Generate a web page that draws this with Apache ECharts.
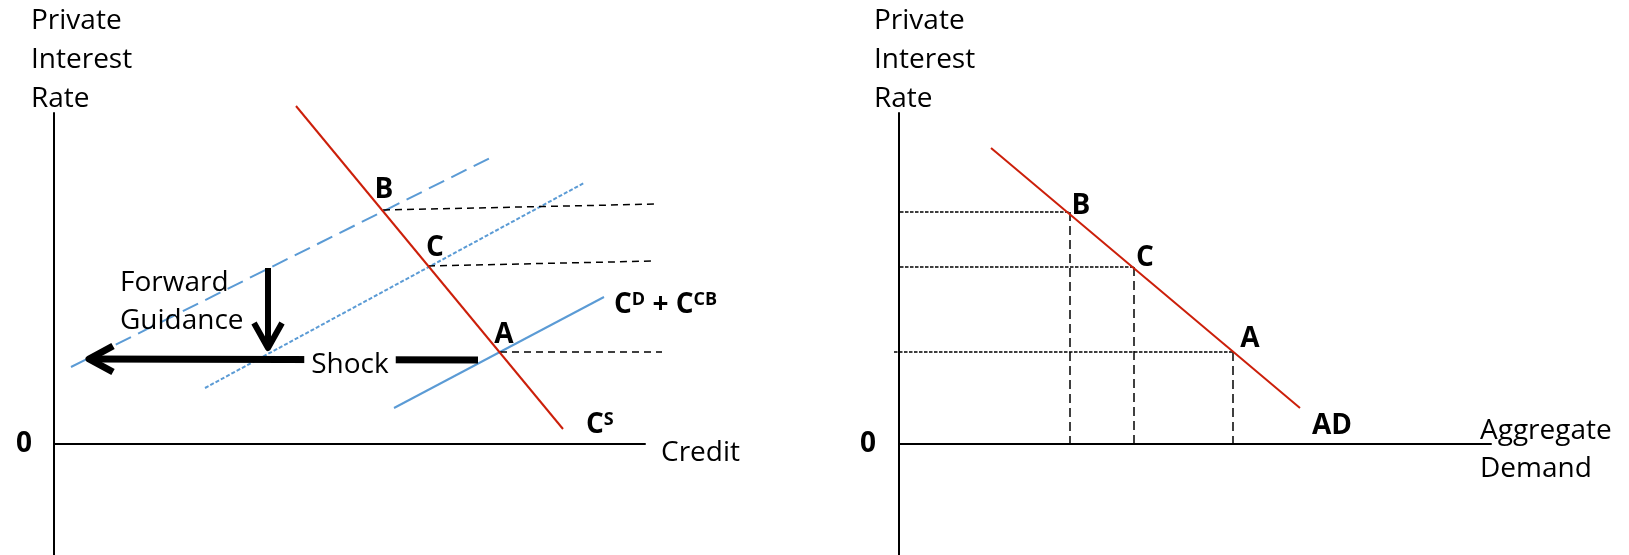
<!DOCTYPE html>
<html><head><meta charset="utf-8">
<script src="https://cdn.jsdelivr.net/npm/echarts@6/dist/echarts.min.js"></script>
<style>html,body{margin:0;padding:0;background:#fff}#c{width:1629px;height:555px}</style>
</head><body><div id="c"></div>
<script>
// ---------------- DATA (diagram units) ----------------
// Axis titles
const yAxisTitle = 'Private\nInterest\nRate';
const leftXTitle = 'Credit';
const rightXTitle = 'Aggregate\nDemand';
const zeroLabel = 0;

// Axis ranges (drawn axes)
const xRangeLeft = [0, 59.1];
const xRangeRight = [0, 59.2];
const yRange = [-11.1, 33.1];
// Ranges of the (same-scale) plotting layers, wide enough for marks that run past the axes
const xMarkRangeLeft = [0, 62.1];
const xMarkRangeRight = [-2, 59.2];
const yMarkRange = [-11.1, 35.1];

// Left panel: credit market
const creditSupply = [[24.2, 33.8], [50.9, 1.5]];     // C^S (red)
const creditDemand = [[34.0, 3.6], [55.0, 14.7]];     // C^D + C^CB (solid blue)
const demandHigh = [[1.7, 7.7], [43.8, 28.7]];        // long-dash blue
const demandMid = [[15.1, 5.6], [53.0, 26.1]];        // short-dash blue
const leftPoints = [['B', 32.9, 23.4], ['C', 37.4, 17.8], ['A', 44.6, 9.2]];
const leftRefEnds = [[60.4, 24.0], [60.1, 18.3], [60.8, 9.2]];
const guidanceShaft = [[21.4, 17.6], [21.4, 9.8]];
const guidanceHead = [[20.0, 12.1], [21.4, 9.6], [22.8, 12.1]];
const shockShaft = [[42.4, 8.4], [3.8, 8.5]];
const shockHead = [[5.9, 9.8], [3.5, 8.5], [5.9, 7.2]];
const forwardText = 'Forward\nGuidance';
const forwardAnchor = [6.6, 14.2];
const shockText = 'Shock';
const shockAnchor = [29.6, 7.9];

// Right panel: aggregate demand
const adCurve = [[9.2, 29.6], [40.1, 3.6]];
const rightPoints = [['B', 17.1, 23.2], ['C', 23.5, 17.7], ['A', 33.4, 9.2]];
const rightRefStartX = [0.1, 0.1, -0.5];
const yStarLabel = 'y*';

// ---------------- STYLE ----------------
const FONT = 'Open Sans';
const RED = '#CC1F0A', BLUE = '#5B9BD5', BLACK = '#000';
const pointLabelOffset = {
  left: {B: [1, -20], C: [7, -18], A: [4, -17]},
  right: {B: [11, -6], C: [11, -9], A: [17, -13]}
};
// grid indices: 0/1 = axes of left/right panel, 2/3 = plotting layers of left/right panel
const LM = 2, RM = 3;

function seg(data, gi, color, width, type, z) {
  return {type: 'line', xAxisIndex: gi, yAxisIndex: gi, data: data, symbol: 'none', showSymbol: false,
    clip: false, silent: true, animation: false, z: z || 2,
    lineStyle: {color: color, width: width, type: type || 'solid', cap: 'butt', join: 'round'}};
}
function textSeries(gi, items, z) {
  return {type: 'scatter', xAxisIndex: gi, yAxisIndex: gi, symbolSize: 0, clip: false, silent: true,
    animation: false, z: z || 10, itemStyle: {opacity: 1, color: 'transparent'}, data: items};
}
const boldLabel = {show: true, position: 'inside', formatter: '{b}', fontFamily: FONT, fontSize: 28,
  fontWeight: 'bold', color: BLACK, opacity: 1, textBorderWidth: 0};
const plainLabel = {show: true, position: 'inside', formatter: '{b}', fontFamily: FONT, fontSize: 28,
  color: BLACK, opacity: 1, textBorderWidth: 0};
const richSup = {
  m: {fontFamily: FONT, fontSize: 28, fontWeight: 'bold', color: BLACK},
  s: {fontFamily: FONT, fontSize: 18, fontWeight: 'bold', color: BLACK, verticalAlign: 'top'}
};

const hiddenAxis = {type: 'value', show: false, axisLine: {show: false}, axisTick: {show: false},
  axisLabel: {show: false}, splitLine: {show: false}};
function xAxisCfg(gi, range, extraLabel) {
  return {gridIndex: gi, type: 'value', min: range[0], max: range[1],
    axisLine: {show: true, onZero: true, lineStyle: {color: BLACK, width: 2}},
    axisTick: {show: false}, splitLine: {show: false},
    axisLabel: extraLabel || {show: false}};
}
function yAxisCfg(gi, namePadLeft, labelMargin) {
  return {gridIndex: gi, type: 'value', min: yRange[0], max: yRange[1],
    axisLine: {show: true, onZero: true, lineStyle: {color: BLACK, width: 2}},
    axisTick: {show: false}, splitLine: {show: false},
    axisLabel: {show: true, customValues: [zeroLabel], fontFamily: FONT, fontSize: 28, fontWeight: 'bold',
      color: BLACK, margin: labelMargin},
    name: yAxisTitle, nameLocation: 'end', nameGap: -6,
    nameTextStyle: {fontFamily: FONT, fontSize: 28, color: BLACK, align: 'left', verticalAlign: 'bottom',
      lineHeight: 39, padding: [0, 0, 0, namePadLeft]}};
}

const series = [];
// Left panel
series.push(seg(demandHigh, LM, BLUE, 2, [17, 8]));
series.push(seg(demandMid, LM, BLUE, 2, [4, 2]));
series.push(seg(creditDemand, LM, BLUE, 2));
leftPoints.forEach((p, i) => series.push(seg([[p[1], p[2]], leftRefEnds[i]], LM, BLACK, 1.5, [7, 5])));
series.push(seg(creditSupply, LM, RED, 2, 'solid', 3));
series.push(seg(guidanceShaft, LM, BLACK, 6, 'solid', 4));
series.push(seg(guidanceHead, LM, BLACK, 6, 'solid', 4));
series.push(seg(shockShaft, LM, BLACK, 7, 'solid', 4));
series.push(seg(shockHead, LM, BLACK, 7, 'solid', 4));
series.push(textSeries(LM, leftPoints.map(p => ({value: [p[1], p[2]], name: p[0],
  label: Object.assign({}, boldLabel, {offset: pointLabelOffset.left[p[0]]})}))));
series.push(textSeries(LM, [
  {value: creditDemand[1], name: 'cd', label: {show: true, position: 'inside', align: 'left', offset: [10, 8],
    formatter: '{m|C}{s|D}{m| + C}{s|CB}', rich: richSup, opacity: 1}},
  {value: creditSupply[1], name: 'cs', label: {show: true, position: 'inside', align: 'left', offset: [23, -4],
    formatter: '{m|C}{s|S}', rich: richSup, opacity: 1}},
  {value: forwardAnchor, name: forwardText, label: Object.assign({}, plainLabel, {align: 'left', lineHeight: 38})},
  {value: shockAnchor, name: shockText, label: Object.assign({}, plainLabel, {backgroundColor: '#fff', padding: [2, 7]})},
  {value: [xRangeLeft[1], 0], name: leftXTitle, label: Object.assign({}, plainLabel, {align: 'left', offset: [16, 9]})}
], 12));

// Right panel
rightPoints.forEach((p, i) => {
  series.push(seg([[rightRefStartX[i], p[2]], [p[1], p[2]]], RM, BLACK, 1.5, [3.5, 1.5]));
  series.push(seg([[p[1], p[2]], [p[1], 0]], RM, BLACK, 1.5, [9, 5]));
});
series.push(seg(adCurve, RM, RED, 2, 'solid', 3));
series.push(textSeries(RM, rightPoints.map(p => ({value: [p[1], p[2]], name: p[0],
  label: Object.assign({}, boldLabel, {offset: pointLabelOffset.right[p[0]]})}))));
series.push(textSeries(RM, [
  {value: adCurve[1], name: 'AD', label: Object.assign({}, boldLabel, {align: 'left', offset: [12, 18]})},
  {value: [xRangeRight[1], 0], name: rightXTitle, label: Object.assign({}, plainLabel, {align: 'left',
    lineHeight: 38, offset: [-11, 6]})}
]));

const option = {
  backgroundColor: '#fff',
  animation: false,
  grid: [
    {left: 54, top: 113, width: 591, height: 442, containLabel: false, outerBoundsMode: 'none'},
    {left: 899, top: 113, width: 592, height: 442, containLabel: false, outerBoundsMode: 'none'},
    {left: 54, top: 93, width: 621, height: 462, containLabel: false, outerBoundsMode: 'none'},
    {left: 879, top: 93, width: 612, height: 462, containLabel: false, outerBoundsMode: 'none'}
  ],
  xAxis: [
    xAxisCfg(0, xRangeLeft),
    xAxisCfg(1, xRangeRight, {show: true,
      customValues: [rightPoints[2][1]], formatter: () => yStarLabel, fontFamily: FONT, fontSize: 28,
      fontWeight: 'bold', color: BLACK, margin: 12, padding: [0, 0, 0, 14]}),
    Object.assign({gridIndex: 2, min: xMarkRangeLeft[0], max: xMarkRangeLeft[1]}, hiddenAxis),
    Object.assign({gridIndex: 3, min: xMarkRangeRight[0], max: xMarkRangeRight[1]}, hiddenAxis)
  ],
  yAxis: [
    yAxisCfg(0, -23, 22), yAxisCfg(1, -25, 23),
    Object.assign({gridIndex: 2, min: yMarkRange[0], max: yMarkRange[1]}, hiddenAxis),
    Object.assign({gridIndex: 3, min: yMarkRange[0], max: yMarkRange[1]}, hiddenAxis)
  ],
  series: series
};
const chart = echarts.init(document.getElementById('c'));
chart.setOption(option);
</script></body></html>
